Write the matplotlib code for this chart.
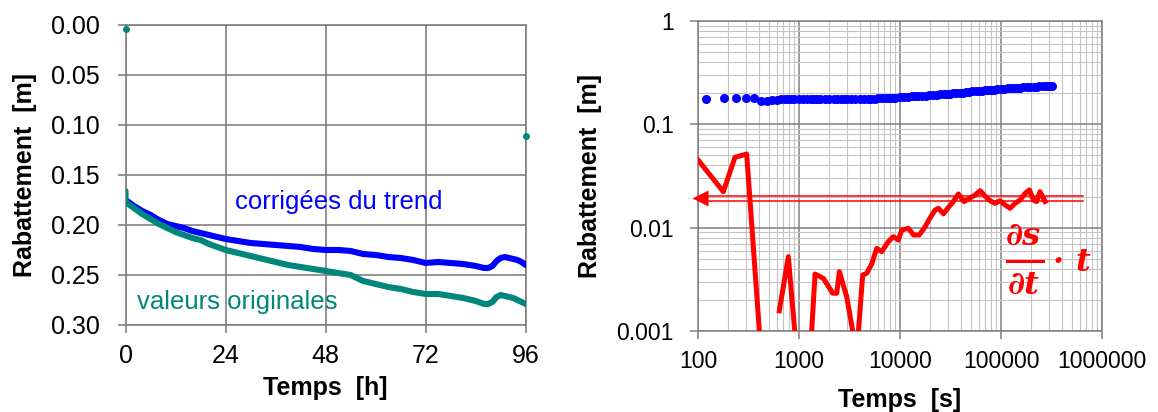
import numpy as np
import matplotlib
matplotlib.use('Agg')
import matplotlib.pyplot as plt
from matplotlib.ticker import FuncFormatter, NullFormatter, LogLocator

plt.rcParams['font.family'] = ['Liberation Sans', 'DejaVu Sans']

BLUE = '#0000ff'
TEAL = '#00867b'
RED = '#ff0000'
GRID = '#808080'

# --- rabattement vs temps [h] (linear) -------------------------------------
hours = [0, 2, 4, 6, 8, 10, 12, 14, 16, 18, 20, 22, 24, 27, 30, 33, 36, 39, 42,
         45, 48, 51, 54, 57, 60, 63, 66, 69, 72, 75, 78, 81, 84, 86, 87, 88,
         89, 90, 91, 92, 93, 94, 95, 96]
s_corrigees = [0.175, 0.181, 0.186, 0.190, 0.195, 0.199, 0.201, 0.203, 0.206,
               0.208, 0.210, 0.212, 0.214, 0.216, 0.218, 0.219, 0.220, 0.221,
               0.222, 0.224, 0.225, 0.225, 0.226, 0.229, 0.230, 0.232, 0.233,
               0.235, 0.238, 0.237, 0.238, 0.239, 0.241, 0.243, 0.243, 0.241,
               0.236, 0.233, 0.232, 0.233, 0.234, 0.235, 0.237, 0.240]
hours_orig = [0] + hours
s_originales = [0.166, 0.177, 0.183, 0.189, 0.194, 0.199, 0.203, 0.207, 0.210,
                0.213, 0.215, 0.219, 0.222, 0.225, 0.228, 0.231, 0.234, 0.237,
                0.240, 0.242, 0.244, 0.246, 0.248, 0.250, 0.256, 0.259, 0.262,
                0.264, 0.267, 0.269, 0.269, 0.271, 0.273, 0.276, 0.279, 0.279,
                0.277, 0.272, 0.270, 0.271, 0.272, 0.273, 0.275, 0.277, 0.279]
# isolated readings (start / end of record)
outlier_h = [0, 96]
outlier_s = [0.004, 0.111]

# --- rabattement vs temps [s] (log-log) ------------------------------------
t_sec = [120, 180, 240, 300, 360, 420, 480, 540, 600, 660,
         720, 780, 840, 900, 1000, 1100, 1200, 1300, 1400, 1500,
         1600, 1800, 2000, 2200, 2400, 2600, 2800, 3000, 3300, 3600,
         4000, 4400, 4800, 5200, 5600, 6000, 6600, 7200, 7800, 8400,
         9000, 10000, 11000, 12000, 13000, 14000, 15000, 16500, 18000, 19500,
         21000, 23000, 25000, 27000, 29000, 31000, 33500, 36000, 39000, 42000,
         45000, 48000, 52000, 56000, 60000, 65000, 70000, 75000, 80000, 86000,
         92000, 100000, 108000, 116000, 125000, 135000, 145000, 155000, 165000, 180000,
         195000, 210000, 225000, 240000, 260000, 280000, 300000, 320000]
s_sec = [0.175, 0.179, 0.179, 0.179, 0.181, 0.168, 0.170, 0.172, 0.173, 0.174,
         0.174, 0.174, 0.174, 0.174, 0.174, 0.174, 0.174, 0.174, 0.174, 0.174,
         0.174, 0.174, 0.174, 0.174, 0.175, 0.175, 0.175, 0.175, 0.175, 0.175,
         0.176, 0.176, 0.176, 0.177, 0.177, 0.178, 0.178, 0.179, 0.180, 0.181,
         0.181, 0.183, 0.184, 0.185, 0.186, 0.187, 0.188, 0.189, 0.190, 0.191,
         0.192, 0.193, 0.195, 0.196, 0.197, 0.198, 0.199, 0.200, 0.202, 0.203,
         0.205, 0.206, 0.208, 0.209, 0.210, 0.211, 0.213, 0.214, 0.215, 0.216,
         0.218, 0.221, 0.222, 0.223, 0.224, 0.225, 0.226, 0.227, 0.228, 0.229,
         0.230, 0.231, 0.232, 0.233, 0.234, 0.235, 0.236, 0.236]

# derivative ds/dt * t (nan where the derivative is negative)
t_deriv = [100, 178, 232, 303, 420, 540, 638, 783, 948, 1100,
           1250, 1440, 1742, 2155, 2360, 2508, 2963, 3724, 4266, 4677,
           5240, 5870, 6580, 7660, 8590, 9620, 10400, 12100, 13600, 15500,
           17700, 19500, 22200, 24000, 26900, 30100, 33700, 37800, 43000, 48600,
           55300, 62000, 69500, 77900, 87300, 97700, 109600, 122800, 137700, 154300,
           173000, 191000, 209000, 225000, 243000, 259000, 273000]
deriv = [0.0452, 0.0223, 0.048, 0.0516, 0.0006, np.nan, 0.00157, 0.00524, 0.0006, np.nan,
         0.00034, 0.00356, 0.00323, 0.00232, 0.00232, 0.00375, 0.00215, 0.0006, 0.00348, 0.00362,
         0.00445, 0.0063, 0.00586, 0.00733, 0.00818, 0.0076, 0.0095, 0.00986, 0.0085, 0.0085,
         0.0102, 0.0121, 0.0148, 0.0154, 0.0136, 0.0157, 0.0179, 0.0212, 0.0179, 0.0192,
         0.0207, 0.0228, 0.0202, 0.0182, 0.0172, 0.0182, 0.0166, 0.0154, 0.0172, 0.0185,
         0.0215, 0.0232, 0.0185, 0.0179, 0.0223, 0.0197, 0.0179]
plateau = [0.0202, 0.0182]  # double line marking the stabilised derivative

fig = plt.figure(figsize=(11.58, 4.12), dpi=100)

# ---------------------------------------------------------------------------
ax1 = fig.add_axes([0.1084, 0.2112, 0.3456, 0.7282])
ax1.plot(hours, s_corrigees, color=BLUE, lw=4.4, solid_capstyle='round', zorder=3)
ax1.plot(hours_orig, s_originales, color=TEAL, lw=4.4, solid_capstyle='round', zorder=4)
ax1.plot(outlier_h, outlier_s, 'o', color=TEAL, ms=4, clip_on=False, zorder=5)
ax1.set_xlim(0, 96)
ax1.set_ylim(0.30, 0.0)
ax1.set_xticks([0, 24, 48, 72, 96])
ax1.set_yticks([0.0, 0.05, 0.10, 0.15, 0.20, 0.25, 0.30])
ax1.yaxis.set_major_formatter(FuncFormatter(lambda v, p: f'{v:.2f}'))
ax1.grid(True, color=GRID, lw=1.2)
ax1.tick_params(direction='out', length=5.5, width=1.2, color=GRID,
                labelsize=18)
ax1.tick_params(axis='y', pad=13)
ax1.tick_params(axis='x', pad=8)
for sp in ax1.spines.values():
    sp.set_color(GRID)
    sp.set_linewidth(1.2)
ax1.set_xlabel('Temps  [h]', fontsize=18, fontweight='bold', labelpad=6)
ax1.set_ylabel('Rabattement  [m]', fontsize=18, fontweight='bold', labelpad=10)
ax1.text(26.3, 0.1767, 'corrigées du trend', color=BLUE, fontsize=18.5, va='center')
ax1.text(2.8, 0.2767, 'valeurs originales', color=TEAL, fontsize=18.5, va='center')

# ---------------------------------------------------------------------------
ax2 = fig.add_axes([0.6028, 0.1966, 0.3489, 0.7524])
ax2.set_xscale('log')
ax2.set_yscale('log')
ax2.plot(t_sec, s_sec, 'o', color=BLUE, ms=6.5, mec='none', zorder=3)
ax2.plot(t_deriv, deriv, color=RED, lw=3.6, zorder=4)
for lvl in plateau:
    ax2.plot([125, 650000], [lvl, lvl], color=RED, lw=1.1, zorder=4)
ax2.plot([104], [0.0192], '<', color=RED, ms=11, mec='none', clip_on=False, zorder=5)
ax2.set_xlim(100, 1e6)
ax2.set_ylim(0.001, 1)
ax2.xaxis.set_major_locator(LogLocator(base=10, numticks=10))
ax2.xaxis.set_major_formatter(FuncFormatter(lambda v, p: f'{v:.0f}'))
ax2.yaxis.set_major_formatter(FuncFormatter(lambda v, p: f'{v:g}'))
ax2.xaxis.set_minor_formatter(NullFormatter())
ax2.yaxis.set_minor_formatter(NullFormatter())
ax2.grid(True, which='major', color=GRID, lw=1.1)
ax2.grid(True, which='minor', color='#c4c4c4', lw=0.8)
ax2.tick_params(which='major', direction='out', length=5.5, width=1.1,
                color=GRID, labelsize=16.5)
ax2.tick_params(which='minor', length=0)
ax2.tick_params(axis='y', pad=12)
ax2.tick_params(axis='x', pad=8)
for sp in ax2.spines.values():
    sp.set_color(GRID)
    sp.set_linewidth(1.1)
ax2.set_xlabel('Temps  [s]', fontsize=18, fontweight='bold', labelpad=11)
ax2.set_ylabel('Rabattement  [m]', fontsize=18, fontweight='bold', labelpad=10)

# ds/dt . t label, built as a stacked fraction
frac = dict(color=RED, family=['DejaVu Serif'], style='italic',
            weight='bold', fontsize=23, ha='center', va='center')
ax2.text(168000, 0.0083, '∂s', **frac)
ax2.text(168000, 0.00275, '∂t', **frac)
ax2.plot([114000, 262000], [0.00475, 0.00475], color=RED, lw=2.2, zorder=5)
ax2.text(370000, 0.0046, '·', **frac)
ax2.text(640000, 0.0046, 't', **frac)

fig.savefig('out.png', dpi=100)
